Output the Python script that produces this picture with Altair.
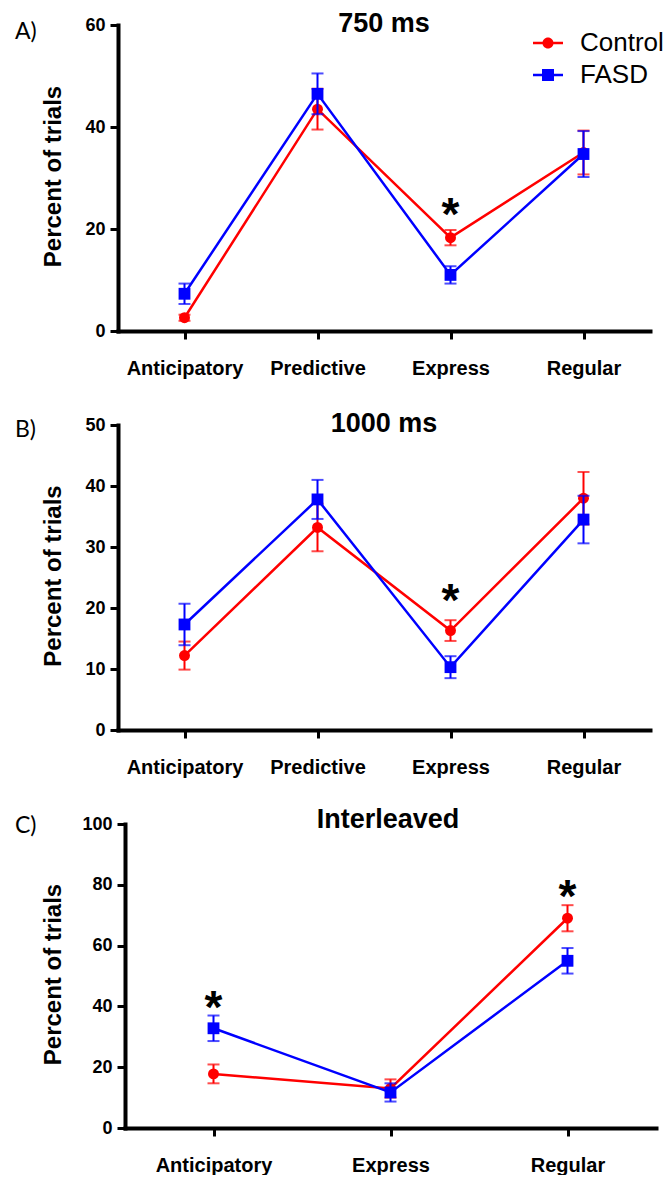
import altair as alt
import pandas as pd

FONT = "Liberation Sans"
TAG_FONT = "Lato"

GROUPS = ["Control", "FASD"]
GROUP_COLORS = ["#FF0000", "#0000FF"]
# legend symbols: short line with the group's marker in the middle
LEGEND_SHAPES = [
    "M-1,-0.08H1V0.08H-1Z M-0.37,0A0.37,0.37,0,1,1,0.37,0A0.37,0.37,0,1,1,-0.37,0Z",
    "M-1,-0.08H1V0.08H-1Z M-0.4,-0.4H0.4V0.4H-0.4Z",
]

# ---- Panel A : 750 ms ----
A_CATS = ["Anticipatory", "Predictive", "Express", "Regular"]
A_CONTROL = [2.6, 43.5, 18.3, 35.0]
A_CONTROL_SEM = [0.6, 4.0, 1.5, 4.3]
A_FASD = [7.3, 46.5, 11.0, 34.7]
A_FASD_SEM = [2.0, 4.0, 1.7, 4.5]
A_STAR_CATS = ["Express"]
A_STAR_Y = [25.0]

# ---- Panel B : 1000 ms ----
B_CATS = ["Anticipatory", "Predictive", "Express", "Regular"]
B_CONTROL = [12.2, 33.2, 16.3, 38.0]
B_CONTROL_SEM = [2.3, 3.9, 1.7, 4.3]
B_FASD = [17.3, 37.8, 10.3, 34.5]
B_FASD_SEM = [3.4, 3.2, 1.8, 3.9]
B_STAR_CATS = ["Express"]
B_STAR_Y = [23.0]

# ---- Panel C : Interleaved ----
C_CATS = ["Anticipatory", "Express", "Regular"]
C_CONTROL = [17.8, 13.0, 69.0]
C_CONTROL_SEM = [3.1, 3.0, 4.3]
C_FASD = [32.8, 11.7, 55.0]
C_FASD_SEM = [4.2, 3.0, 4.2]
C_STAR_CATS = ["Anticipatory", "Regular"]
C_STAR_Y = [43.0, 79.5]


def panel(cats, ctrl, ctrl_sem, fasd, fasd_sem, star_cats, star_y, ymax, ystep,
          title, tag, width, height, title_x, title_y, tag_y,
          xrange=None, yshift=0, legend=False):
    xs = dict(type="point", domain=cats, padding=0.5)
    if xrange is not None:
        xs["range"] = xrange
    x_axis = alt.Axis(title=None, labelAngle=0, labelFont=FONT, labelFontSize=20,
                      labelFontWeight="bold", labelColor="black", labelPadding=19,
                      labelLimit=0, tickSize=8, tickWidth=3, tickColor="black",
                      domainWidth=4, domainColor="black", domainCap="square", grid=False)
    x = alt.X("cond:N", scale=alt.Scale(**xs), axis=x_axis)
    yscale = alt.Scale(domain=[0, ymax], nice=False)
    y_axis = alt.Axis(values=list(range(0, ymax + 1, ystep)), title="Percent of trials",
                      titleFont=FONT, titleFontSize=24, titleFontWeight="bold",
                      titleColor="black", titleX=-65 - yshift, titleY=height / 2 - 2,
                      titleAlign="center", titleBaseline="middle",
                      labelFont=FONT, labelFontSize=18, labelFontWeight="bold",
                      labelColor="black", labelPadding=5, tickSize=8, tickWidth=3,
                      tickColor="black", domainWidth=4, domainColor="black",
                      domainCap="square", grid=False, offset=-yshift)

    def Y(field):
        return alt.Y(field, scale=yscale, axis=y_axis)

    layers = []
    if legend:
        leg = alt.Legend(title=None, orient="none", legendX=415, legendY=3,
                         symbolSize=900, symbolOpacity=1, symbolStrokeWidth=0,
                         labelFont=FONT, labelFontSize=26, labelColor="black",
                         labelOffset=17, rowPadding=4, padding=0, labelLimit=0)
        ldf = pd.DataFrame({"group": GROUPS, "cond": [cats[0]] * 2, "mean": [0.0, 0.0]})
        layers.append(
            alt.Chart(ldf).mark_point(filled=True, opacity=0, size=900).encode(
                x=x, y=Y("mean:Q"),
                color=alt.Color("group:N", scale=alt.Scale(domain=GROUPS, range=GROUP_COLORS), legend=leg),
                shape=alt.Shape("group:N", scale=alt.Scale(domain=GROUPS, range=LEGEND_SHAPES), legend=leg),
            )
        )

    series = [
        (GROUP_COLORS[0], "circle", 120, ctrl, ctrl_sem),
        (GROUP_COLORS[1], "square", 140, fasd, fasd_sem),
    ]
    for color, shape, size, means, sems in series:
        df = pd.DataFrame({
            "cond": cats,
            "i": list(range(len(cats))),
            "mean": means,
            "lo": [m - s for m, s in zip(means, sems)],
            "hi": [m + s for m, s in zip(means, sems)],
        })
        base = alt.Chart(df)
        layers.append(base.mark_line(color=color, strokeWidth=2.5).encode(
            x=x, y=Y("mean:Q"), order="i:Q"))
        layers.append(base.mark_rule(color=color, strokeWidth=2).encode(
            x=x, y=Y("lo:Q"), y2="hi:Q"))
        layers.append(base.mark_tick(color=color, thickness=2, size=12, orient="horizontal").encode(
            x=x, y=Y("lo:Q")))
        layers.append(base.mark_tick(color=color, thickness=2, size=12, orient="horizontal").encode(
            x=x, y=Y("hi:Q")))
        layers.append(base.mark_point(filled=True, shape=shape, size=size, color=color, opacity=1).encode(
            x=x, y=Y("mean:Q")))

    sdf = pd.DataFrame({"cond": star_cats, "y": star_y, "t": ["*"] * len(star_cats)})
    layers.append(alt.Chart(sdf).mark_text(font=FONT, fontSize=46, fontWeight="bold", color="black",
                                           baseline="alphabetic", align="center", dy=26).encode(
        x=x, y=Y("y:Q"), text="t:N"))

    tdf = pd.DataFrame({"t": [title]})
    layers.append(alt.Chart(tdf).mark_text(font=FONT, fontSize=27, fontWeight="bold", color="black",
                                           baseline="alphabetic", align="center").encode(
        text="t:N", x=alt.value(title_x), y=alt.value(title_y)))

    gdf = pd.DataFrame({"t": [tag]})
    layers.append(alt.Chart(gdf).mark_text(font=TAG_FONT, fontSize=23, color="black",
                                           baseline="alphabetic", align="left").encode(
        text="t:N", x=alt.value(-103), y=alt.value(tag_y)))

    return alt.layer(*layers).properties(width=width, height=height)


pA = panel(A_CATS, A_CONTROL, A_CONTROL_SEM, A_FASD, A_FASD_SEM, A_STAR_CATS, A_STAR_Y,
           60, 20, "750 ms", "A)", 532, 306, 266, 7, 14, legend=True)
pB = panel(B_CATS, B_CONTROL, B_CONTROL_SEM, B_FASD, B_FASD_SEM, B_STAR_CATS, B_STAR_Y,
           50, 10, "1000 ms", "B)", 532, 305, 266, 7, 12)
pC = panel(C_CATS, C_CONTROL, C_CONTROL_SEM, C_FASD, C_FASD_SEM, C_STAR_CATS, C_STAR_Y,
           100, 20, "Interleaved", "C)", 538, 304, 270, 4, 9, xrange=[7, 538], yshift=7)

chart = alt.vconcat(pA, pB, pC, spacing=94, bounds="flush").properties(
    padding={"left": 15, "top": 10, "right": 2, "bottom": 0},
    background="white",
).configure_view(stroke=None)

chart.save("out.html", embed_options={"renderer": "svg", "actions": False})
